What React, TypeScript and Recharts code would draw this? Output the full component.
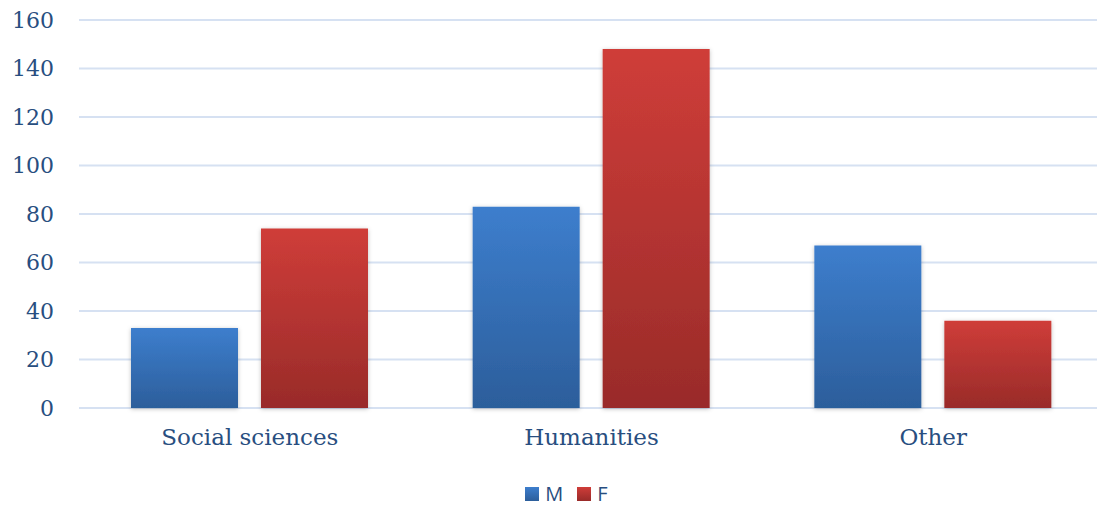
import React from "react";
import { BarChart, Bar, XAxis, YAxis, CartesianGrid } from "recharts";

const categories = ["Social sciences", "Humanities", "Other"];
const maleValues = [33, 83, 67];
const femaleValues = [74, 148, 36];
const yTicks = [0, 20, 40, 60, 80, 100, 120, 140, 160];

const data = categories.map((name, i) => ({
  name,
  M: maleValues[i],
  F: femaleValues[i],
}));

const textColor = "#284e80";
const serif = "'DejaVu Serif', serif";

export default function App() {
  return (
    <div
      style={{
        position: "absolute",
        left: 0,
        top: 0,
        width: 1097,
        height: 507,
        overflow: "hidden",
        background: "#fff",
      }}
    >
      <BarChart
        width={1104}
        height={507}
        data={data}
        margin={{ top: 20, right: 0, left: 0, bottom: 0 }}
        barSize={107}
        barGap={23}
      >
        <defs>
          <linearGradient id="gradM" x1="0" y1="0" x2="0" y2="1">
            <stop offset="0%" stopColor="#3d7ecd" />
            <stop offset="100%" stopColor="#2c5e9b" />
          </linearGradient>
          <linearGradient id="gradF" x1="0" y1="0" x2="0" y2="1">
            <stop offset="0%" stopColor="#cf3d39" />
            <stop offset="100%" stopColor="#992b29" />
          </linearGradient>
          <filter id="shadow" x="-10%" y="-10%" width="120%" height="120%">
            <feDropShadow dx="0" dy="1" stdDeviation="2" floodColor="#000" floodOpacity="0.25" />
          </filter>
        </defs>
        <CartesianGrid vertical={false} stroke="#d6e1f2" strokeWidth={2} />
        <XAxis
          dataKey="name"
          axisLine={false}
          tickLine={false}
          tickSize={0}
          tickMargin={21}
          height={99}
          tick={{ fill: textColor, fontSize: 23, fontFamily: serif }}
        />
        <YAxis
          domain={[0, 160]}
          ticks={yTicks}
          axisLine={false}
          tickLine={false}
          tickSize={0}
          tickMargin={25}
          width={79}
          tick={{ fill: textColor, fontSize: 22, fontFamily: serif }}
        />
        <Bar dataKey="M" fill="url(#gradM)" filter="url(#shadow)" isAnimationActive={false} />
        <Bar dataKey="F" fill="url(#gradF)" filter="url(#shadow)" isAnimationActive={false} />
      </BarChart>
      <div
        style={{
          position: "absolute",
          top: 480,
          left: 0,
          width: 1097,
          display: "flex",
          justifyContent: "center",
          alignItems: "center",
          fontFamily: "'Open Sans', sans-serif",
          fontSize: 20,
          color: textColor,
          paddingLeft: 36,
          boxSizing: "border-box",
        }}
      >
        <span style={{ display: "inline-block", width: 14, height: 14, background: "linear-gradient(#3d7ecd, #2c5e9b)", marginRight: 6 }} />
        <span style={{ marginRight: 14 }}>M</span>
        <span style={{ display: "inline-block", width: 14, height: 14, background: "linear-gradient(#cf3d39, #992b29)", marginRight: 6 }} />
        <span>F</span>
      </div>
    </div>
  );
}
